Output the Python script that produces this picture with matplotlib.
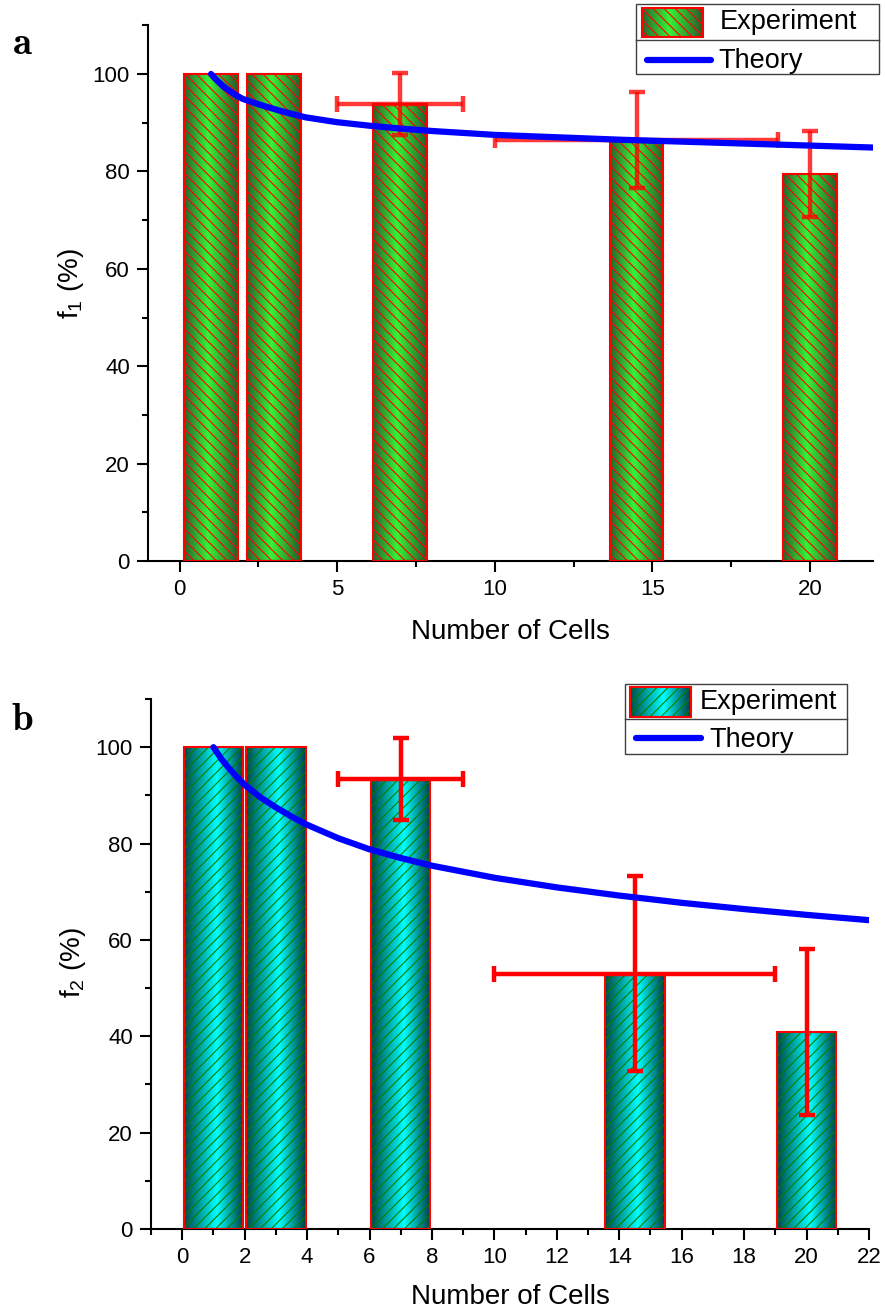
import numpy as np
import matplotlib
matplotlib.use('Agg')
import matplotlib.pyplot as plt
from matplotlib.colors import LinearSegmentedColormap
from matplotlib.patches import Rectangle
from matplotlib.lines import Line2D
from matplotlib.ticker import MultipleLocator

plt.rcParams['font.family'] = ['Liberation Sans', 'DejaVu Sans']
plt.rcParams['mathtext.fontset'] = 'custom'
plt.rcParams['mathtext.rm'] = 'Liberation Sans'
plt.rcParams['mathtext.it'] = 'Liberation Sans:italic'
plt.rcParams['mathtext.bf'] = 'Liberation Sans:bold'
plt.rcParams['hatch.linewidth'] = 0.8

# ---------------- data ----------------
cells = [1, 3, 7, 14.5, 20]

f1 = [100, 100, 93.8, 86.5, 79.5]
f1_yerr = [0, 0, 6.4, 9.9, 8.8]
f1_xerr = [0, 0, 2.0, 4.5, 0]
theory1_n = [1, 1.2, 1.4, 1.7, 2, 2.5, 3, 3.5, 4, 5, 6, 7, 8, 10, 12, 14,
             16, 18, 20, 22]
theory1_f = [100, 98.6, 97.4, 96.0, 94.9, 93.8, 92.8, 91.9, 91.1, 90.1, 89.4,
             88.8, 88.3, 87.5, 87.0, 86.5, 86.1, 85.7, 85.3, 84.9]

f2 = [100, 100, 93.4, 53.0, 40.9]
f2_yerr = [0, 0, 8.6, 20.2, 17.3]
f2_xerr = [0, 0, 2.0, 4.5, 0]
theory2_n = [1, 1.25, 1.5, 1.75, 2, 2.5, 3, 3.5, 4, 5, 6, 7, 8, 10, 12, 14,
             16, 18, 20, 22]
theory2_f = [100, 97.6, 95.6, 93.8, 92.2, 89.6, 87.5, 85.6, 83.9, 81.1, 78.8,
             77.0, 75.4, 72.9, 70.9, 69.2, 67.7, 66.4, 65.2, 64.1]

legend_labels = ['Experiment', 'Theory']
xlabel = 'Number of Cells'

W, H = 885, 1312
fig = plt.figure(figsize=(W / 100, H / 100), dpi=100)

green_cmap = LinearSegmentedColormap.from_list(
    'g', [(0, '#2c5f2c'), (0.45, '#36f436'), (1, '#2a5a2a')])
cyan_cmap = LinearSegmentedColormap.from_list(
    'c', [(0, '#004848'), (0.55, '#00ffff'), (1, '#003c44')])
grad = np.linspace(0, 1, 256).reshape(1, -1)


def px_axes(l, t, r, b):
    return fig.add_axes([l / W, 1 - b / H, (r - l) / W, (b - t) / H])


def panel(ax, vals, yerr, xerr, th_n, th_f, cmap, hatch, hatch_col, width,
          err_alpha, ylab, major_x, minor_x):
    for x, v in zip(cells, vals):
        ax.imshow(grad, extent=(x - width / 2, x + width / 2, 0, v), cmap=cmap,
                  aspect='auto', zorder=1, interpolation='bilinear')
    ax.bar(cells, vals, width=width, facecolor='none', edgecolor=hatch_col,
           linewidth=0, hatch=hatch, zorder=2)
    ax.bar(cells, vals, width=width, facecolor='none', edgecolor='red',
           linewidth=1.5, zorder=3)
    yi = [i for i, e in enumerate(yerr) if e > 0]
    xi = [i for i, e in enumerate(xerr) if e > 0]
    ax.errorbar([cells[i] for i in yi], [vals[i] for i in yi],
                yerr=[yerr[i] for i in yi], fmt='none', ecolor='red',
                elinewidth=3.2, capsize=5.5, capthick=3.2, alpha=err_alpha,
                zorder=4)
    ax.errorbar([cells[i] for i in xi], [vals[i] for i in xi],
                xerr=[xerr[i] for i in xi], fmt='none', ecolor='red',
                elinewidth=3.2, capsize=5.5, capthick=3.2, alpha=err_alpha,
                zorder=4)
    ax.plot(th_n, th_f, color='#0000ff', lw=4.5, solid_capstyle='round',
            solid_joinstyle='round', zorder=5)
    ax.set_xlim(-1, 22)
    ax.set_ylim(0, 110)
    ax.xaxis.set_major_locator(MultipleLocator(major_x))
    ax.xaxis.set_minor_locator(MultipleLocator(minor_x))
    ax.yaxis.set_major_locator(MultipleLocator(20))
    ax.yaxis.set_minor_locator(MultipleLocator(10))
    for s in ['top', 'right']:
        ax.spines[s].set_visible(False)
    for s in ['left', 'bottom']:
        ax.spines[s].set_linewidth(1.5)
    ax.tick_params(which='major', direction='out', length=8, width=1.5,
                   labelsize=16, pad=5)
    ax.tick_params(which='minor', direction='out', length=4.5, width=1.5)
    ax.set_xlabel(xlabel, fontsize=20, va='center')
    ax.set_ylabel(ylab, fontsize=20, va='center')


def legend(l, t, r, b, sep, patch_box, exp_x, exp_y, line_x0, line_x1, line_y,
           th_x, th_y, cmap, hatch, hatch_col):
    fig.add_artist(Rectangle((l / W, 1 - b / H), (r - l) / W, (b - t) / H,
                             transform=fig.transFigure, facecolor='white',
                             edgecolor='#404040', linewidth=1.0, zorder=10))
    fig.add_artist(Line2D([l / W, r / W], [1 - sep / H, 1 - sep / H],
                          transform=fig.transFigure, color='#404040', lw=1.0,
                          zorder=11))
    pl, pt, pr, pb = patch_box
    pax = px_axes(pl, pt, pr, pb)
    pax.set_zorder(12)
    pax.imshow(grad, extent=(0, 1, 0, 1), cmap=cmap, aspect='auto',
               interpolation='bilinear')
    pax.add_patch(Rectangle((0, 0), 1, 1, facecolor='none',
                            edgecolor=hatch_col, linewidth=0, hatch=hatch))
    pax.add_patch(Rectangle((0, 0), 1, 1, facecolor='none', edgecolor='red',
                            linewidth=1.5, clip_on=False))
    pax.set_xlim(0, 1)
    pax.set_ylim(0, 1)
    pax.axis('off')
    fig.text(exp_x / W, 1 - exp_y / H, legend_labels[0], fontsize=19.5,
             ha='left', va='center', zorder=12)
    fig.add_artist(Line2D([line_x0 / W, line_x1 / W],
                          [1 - line_y / H, 1 - line_y / H],
                          transform=fig.transFigure, color='#0000ff', lw=4.5,
                          solid_capstyle='round', zorder=12))
    fig.text(th_x / W, 1 - th_y / H, legend_labels[1], fontsize=19.5,
             ha='left', va='center', zorder=12)


# ---------------- panel a ----------------
axa = px_axes(148, 25.3, 873, 561)
panel(axa, f1, f1_yerr, f1_xerr, theory1_n, theory1_f, green_cmap, '\\\\\\',
      'red', 1.7, 0.78, r'f$_{1}$ (%)', 5, 2.5)
axa.xaxis.set_label_coords(0.5, (561 - 632) / 536)
axa.yaxis.set_label_coords((71 - 148) / 725, (561 - 283) / 536)
legend(636, 4, 879, 74, 39.5, (642, 7.5, 703, 36.5), 720, 22, 647, 711, 60,
       718, 61, green_cmap, '\\\\\\', 'red')
fig.text(22 / W, 1 - 44 / H, r'$\mathbf{a}$', math_fontfamily='cm',
         fontsize=28, ha='center', va='center')

# ---------------- panel b ----------------
axb = px_axes(151, 699, 869, 1229)
panel(axb, f2, f2_yerr, f2_xerr, theory2_n, theory2_f, cyan_cmap, '///',
      '#008000', 1.9, 1.0, r'f$_{2}$ (%)', 2, 1)
axb.xaxis.set_label_coords(0.5, (1229 - 1297) / 530)
axb.yaxis.set_label_coords((73 - 151) / 718, (1229 - 963) / 530)
legend(625, 684, 847, 754, 718.5, (630, 687, 691, 717), 700, 702, 636, 701,
       738, 709, 740, cyan_cmap, '///', '#008000')
fig.text(22 / W, 1 - 720 / H, r'$\mathbf{b}$', math_fontfamily='cm',
         fontsize=28, ha='center', va='center')

fig.savefig('out.png', dpi=100)
